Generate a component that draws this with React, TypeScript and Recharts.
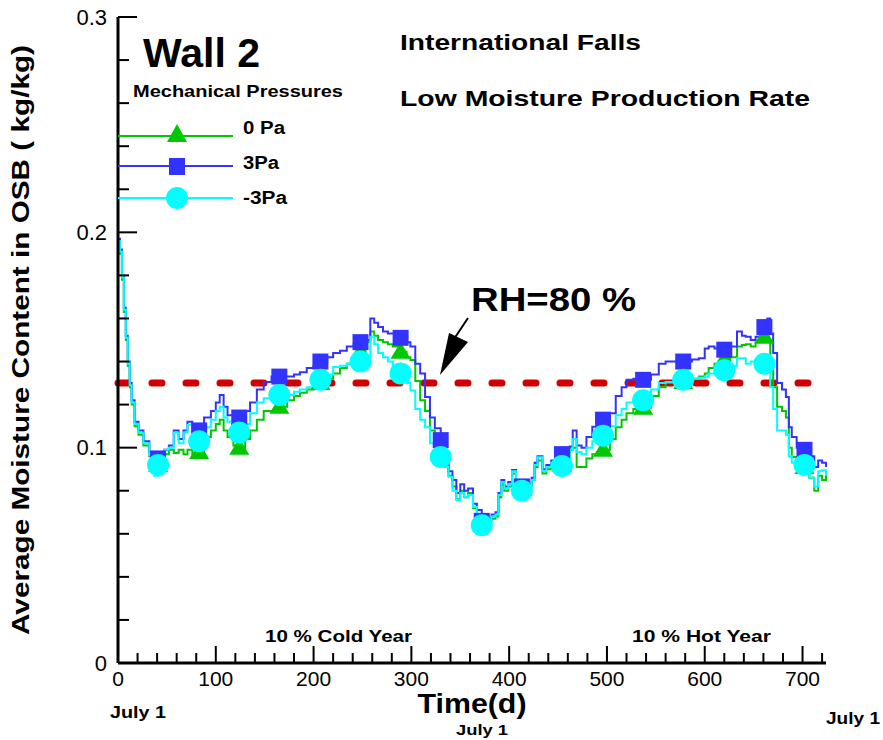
import React from "react";
import { LineChart, Line, XAxis, YAxis, ReferenceLine } from "recharts";

// time in days
const days = [
  0, 2, 4, 6, 8, 10, 12, 14, 17, 21,
  26, 32, 37, 41, 47, 52, 57, 62, 67, 71,
  76, 83, 88, 95, 100, 104, 108, 112, 118, 124,
  130, 135, 142, 149, 157, 165, 173, 180, 186, 193,
  200, 207, 214, 220, 227, 234, 241, 248, 253, 258,
  262, 266, 271, 276, 281, 289, 295, 299, 304, 309,
  314, 319, 324, 330, 334, 338, 342, 346, 350, 354,
  358, 363, 367, 372, 377, 382, 386, 389, 392, 395,
  399, 403, 407, 413, 418, 423, 426, 429, 434, 438,
  443, 448, 454, 459, 462, 465, 469, 474, 479, 485,
  490, 496, 503, 509, 515, 520, 527, 537, 545, 553,
  560, 570, 578, 587, 594, 600, 604, 610, 614, 620,
  626, 633, 638, 642, 647, 652, 657, 661, 664, 667,
  670, 674, 679, 683, 686, 689, 694, 702, 707, 712,
  716, 720, 724,
];

// 0 Pa
const pa0 = [
  0.196, 0.19, 0.178, 0.163, 0.15, 0.138, 0.128, 0.12, 0.11, 0.106,
  0.101, 0.096, 0.09, 0.092, 0.097, 0.099, 0.0975, 0.099, 0.097, 0.099,
  0.097, 0.098, 0.105, 0.108, 0.111, 0.113, 0.108, 0.105, 0.101, 0.1,
  0.104, 0.108, 0.113, 0.117, 0.117, 0.119, 0.122, 0.124, 0.1255, 0.127,
  0.128, 0.13, 0.132, 0.1345, 0.137, 0.139, 0.142, 0.1445, 0.149, 0.154,
  0.152, 0.15, 0.149, 0.148, 0.147, 0.1445, 0.142, 0.1407, 0.131, 0.122,
  0.117, 0.108, 0.104, 0.099, 0.094, 0.087, 0.082, 0.076, 0.08, 0.077,
  0.079, 0.072, 0.069, 0.065, 0.066, 0.067, 0.068, 0.077, 0.083, 0.08,
  0.082, 0.088, 0.083, 0.081, 0.082, 0.085, 0.091, 0.094, 0.088, 0.09,
  0.091, 0.095, 0.092, 0.093, 0.099, 0.1, 0.091, 0.091, 0.095, 0.097,
  0.098, 0.099, 0.104, 0.1095, 0.113, 0.116, 0.118, 0.1185, 0.124, 0.128,
  0.13, 0.13, 0.1305, 0.132, 0.133, 0.1345, 0.137, 0.139, 0.14, 0.141,
  0.142, 0.147, 0.1477, 0.148, 0.147, 0.149, 0.151, 0.1515, 0.15, 0.136,
  0.128, 0.119, 0.117, 0.114, 0.1, 0.0957, 0.094, 0.091, 0.086, 0.08,
  0.087, 0.085, 0.088,
];

// 3 Pa
const pa3 = [
  0.197, 0.192, 0.18, 0.165, 0.152, 0.14, 0.13, 0.122, 0.112, 0.108,
  0.103, 0.098, 0.095, 0.095, 0.099, 0.101, 0.108, 0.104, 0.108, 0.112,
  0.108, 0.108, 0.114, 0.117, 0.121, 0.1245, 0.119, 0.115, 0.114, 0.114,
  0.117, 0.121, 0.127, 0.1305, 0.133, 0.133, 0.133, 0.134, 0.135, 0.137,
  0.138, 0.14, 0.142, 0.144, 0.145, 0.147, 0.148, 0.149, 0.15, 0.16,
  0.158, 0.156, 0.154, 0.153, 0.153, 0.151, 0.149, 0.147, 0.139, 0.1345,
  0.1235, 0.114, 0.109, 0.1035, 0.096, 0.089, 0.085, 0.079, 0.083, 0.08,
  0.081, 0.074, 0.071, 0.066, 0.067, 0.069, 0.07, 0.079, 0.085, 0.082,
  0.084, 0.0896, 0.084, 0.082, 0.083, 0.086, 0.093, 0.096, 0.09, 0.092,
  0.094, 0.099, 0.097, 0.098, 0.1005, 0.108, 0.101, 0.1, 0.105, 0.1097,
  0.112, 0.113, 0.116, 0.124, 0.128, 0.1315, 0.132, 0.1315, 0.134, 0.139,
  0.14, 0.14, 0.14, 0.141, 0.1415, 0.146, 0.147, 0.146, 0.145, 0.1455,
  0.147, 0.154, 0.152, 0.1515, 0.15, 0.1515, 0.153, 0.156, 0.16, 0.153,
  0.144, 0.13, 0.127, 0.1235, 0.1095, 0.105, 0.1, 0.099, 0.096, 0.091,
  0.094, 0.093, 0.091,
];

// -3 Pa
const paNeg3 = [
  0.196, 0.191, 0.179, 0.164, 0.151, 0.139, 0.129, 0.121, 0.111, 0.107,
  0.102, 0.0966, 0.087, 0.092, 0.099, 0.1, 0.107, 0.102, 0.107, 0.1105,
  0.106, 0.103, 0.1095, 0.113, 0.117, 0.119, 0.114, 0.112, 0.111, 0.107,
  0.111, 0.116, 0.121, 0.123, 0.124, 0.1245, 0.1245, 0.126, 0.127, 0.128,
  0.13, 0.1315, 0.134, 0.1375, 0.138, 0.139, 0.14, 0.14, 0.142, 0.1515,
  0.148, 0.144, 0.142, 0.14, 0.138, 0.1345, 0.13, 0.1265, 0.118, 0.113,
  0.1095, 0.102, 0.099, 0.0957, 0.091, 0.0865, 0.08, 0.0757, 0.079, 0.077,
  0.078, 0.0725, 0.069, 0.064, 0.066, 0.068, 0.069, 0.078, 0.084, 0.081,
  0.083, 0.089, 0.083, 0.08, 0.082, 0.085, 0.092, 0.0955, 0.089, 0.091,
  0.093, 0.097, 0.0915, 0.095, 0.099, 0.104, 0.098, 0.097, 0.1, 0.103,
  0.104, 0.1055, 0.11, 0.115, 0.118, 0.121, 0.122, 0.122, 0.127, 0.13,
  0.1305, 0.131, 0.1315, 0.132, 0.1325, 0.133, 0.1345, 0.135, 0.135, 0.136,
  0.138, 0.1415, 0.1415, 0.139, 0.14, 0.139, 0.139, 0.139, 0.135, 0.128,
  0.118, 0.108, 0.108, 0.106, 0.096, 0.093, 0.093, 0.092, 0.086, 0.082,
  0.089, 0.0895, 0.087,
];

// days where the symbols sit
const markerDays = [41, 83, 124, 165, 207, 248, 289, 330, 372, 413, 454, 496, 537, 578, 620, 661, 702];

const xTicks = [
  0, 20, 40, 60, 80, 100, 120, 140, 160, 180, 200, 220, 240, 260, 280, 300, 320, 340, 360,
  380, 400, 420, 440, 460, 480, 500, 520, 540, 560, 580, 600, 620, 640, 660, 680, 700, 720,
];
const yTicks = [0, 0.02, 0.04, 0.06, 0.08, 0.1, 0.12, 0.14, 0.16, 0.18, 0.2, 0.22, 0.24, 0.26, 0.28, 0.3];

const rhLevel = 0.13;

const data = days.map((day, i) => ({ day, pa0: pa0[i], pa3: pa3[i], paNeg3: paNeg3[i] }));

const GREEN = "#00C800";
const BLUE = "#3333FF";
const CYAN = "#00FFFF";
const RED = "#D00000";
const FONT = "'Liberation Sans', Arial, sans-serif";

const W = 883;
const H = 740;
const PL = 118;
const PT = 17;
const PR = 826;
const PB = 663;

const isMarker = (d: number) => markerDays.includes(d);

const triangleDot = (p: any) => {
  const { cx, cy, payload, index } = p;
  if (!isMarker(payload.day)) return <g key={"t" + index} />;
  return (
    <path
      key={"t" + index}
      d={`M${cx},${cy - 10} L${cx + 10},${cy + 7} L${cx - 10},${cy + 7} Z`}
      fill={GREEN}
    />
  );
};

const squareDot = (p: any) => {
  const { cx, cy, payload, index } = p;
  if (!isMarker(payload.day)) return <g key={"s" + index} />;
  return <rect key={"s" + index} x={cx - 8} y={cy - 8} width={16} height={16} fill={BLUE} />;
};

const circleDot = (p: any) => {
  const { cx, cy, payload, index } = p;
  if (!isMarker(payload.day)) return <g key={"c" + index} />;
  return <circle key={"c" + index} cx={cx} cy={cy} r={11} fill={CYAN} />;
};

const YTick = (props: any) => {
  const { y, payload } = props;
  const v = payload.value;
  const major = Math.abs(v * 10 - Math.round(v * 10)) < 1e-6;
  return (
    <g>
      <path d={`M${PL},${y} H${PL + (major ? 19 : 11)}`} stroke="#000" strokeWidth={2} fill="none" />
      {major && (
        <text x={PL - 11} y={y} dy="0.35em" textAnchor="end" fontSize={22} fontFamily={FONT} fill="#000">
          {v === 0 ? "0" : v.toFixed(1)}
        </text>
      )}
    </g>
  );
};

const XTick = (props: any) => {
  const { x, payload } = props;
  const v = payload.value;
  const major = v % 100 === 0;
  return (
    <g>
      <path d={`M${x},${PB} V${PB - (major ? 17 : 10)}`} stroke="#000" strokeWidth={2} fill="none" />
      {major && (
        <text x={x} y={PB + 23} textAnchor="middle" fontSize={21} fontFamily={FONT} fill="#000">
          {v}
        </text>
      )}
    </g>
  );
};

export default function App() {
  return (
    <div style={{ position: "absolute", left: 0, top: 0, width: W, height: H, background: "#fff" }}>
      <LineChart
        width={W}
        height={H}
        data={data}
        margin={{ top: PT, right: W - PR, left: PL - 60, bottom: H - PB - 40 }}
      >
        <XAxis
          dataKey="day"
          type="number"
          domain={[0, 724]}
          ticks={xTicks}
          interval={0}
          height={40}
          axisLine={{ stroke: "#000", strokeWidth: 3 }}
          tickLine={false}
          tick={XTick}
        />
        <XAxis
          xAxisId="top"
          orientation="top"
          dataKey="day"
          type="number"
          domain={[0, 724]}
          height={0}
          tick={false}
          tickLine={false}
          axisLine={{ stroke: "#000", strokeWidth: 2 }}
        />
        <YAxis
          type="number"
          domain={[0, 0.3]}
          ticks={yTicks}
          interval={0}
          width={60}
          axisLine={{ stroke: "#000", strokeWidth: 3 }}
          tickLine={false}
          tick={YTick}
        />
        <YAxis
          yAxisId="r"
          orientation="right"
          type="number"
          domain={[0, 0.3]}
          width={0}
          tick={false}
          tickLine={false}
          axisLine={{ stroke: "#000", strokeWidth: 2 }}
        />
        <ReferenceLine
          y={rhLevel}
          stroke={RED}
          strokeWidth={7}
          strokeDasharray="10 24"
          strokeLinecap="round"
        />
        <Line
          type="stepAfter"
          dataKey="pa0"
          stroke={GREEN}
          strokeWidth={2}
          dot={triangleDot}
          activeDot={false}
          isAnimationActive={false}
        />
        <Line
          type="stepAfter"
          dataKey="pa3"
          stroke={BLUE}
          strokeWidth={2}
          dot={squareDot}
          activeDot={false}
          isAnimationActive={false}
        />
        <Line
          type="stepAfter"
          dataKey="paNeg3"
          stroke={CYAN}
          strokeWidth={2}
          dot={circleDot}
          activeDot={false}
          isAnimationActive={false}
        />
      </LineChart>

      {/* titles, legend and notes */}
      <svg
        width={W}
        height={H}
        style={{ position: "absolute", left: 0, top: 0, pointerEvents: "none" }}
        fontFamily={FONT}
        fontWeight="bold"
      >
        <text x={143} y={67} fontSize={40} textLength={117} lengthAdjust="spacingAndGlyphs">Wall 2</text>
        <text x={133} y={97} fontSize={17} textLength={210} lengthAdjust="spacingAndGlyphs">Mechanical Pressures</text>

        <line x1={118} x2={233} y1={136} y2={136} stroke={GREEN} strokeWidth={2} />
        <path d="M177,124 L187,142 L167,142 Z" fill={GREEN} />
        <text x={243} y={134} fontSize={18} textLength={42} lengthAdjust="spacingAndGlyphs">0 Pa</text>

        <line x1={118} x2={233} y1={166} y2={166} stroke={BLUE} strokeWidth={2} />
        <rect x={169} y={158} width={16} height={17} fill={BLUE} />
        <text x={243} y={169} fontSize={18} textLength={36} lengthAdjust="spacingAndGlyphs">3Pa</text>

        <line x1={118} x2={233} y1={198} y2={198} stroke={CYAN} strokeWidth={2} />
        <circle cx={177} cy={198} r={11} fill={CYAN} />
        <text x={243} y={204} fontSize={18} textLength={44} lengthAdjust="spacingAndGlyphs">-3Pa</text>

        <text x={400} y={50} fontSize={22} textLength={241} lengthAdjust="spacingAndGlyphs">International Falls</text>
        <text x={400} y={106} fontSize={22} textLength={410} lengthAdjust="spacingAndGlyphs">Low Moisture Production Rate</text>

        <text x={471} y={311} fontSize={34} textLength={165} lengthAdjust="spacingAndGlyphs">RH=80 %</text>
        <line x1={468} y1={318} x2={452} y2={342} stroke="#000" strokeWidth={2} />
        <path d="M440,375 L449,333 L468,342 Z" fill="#000" />

        <text x={265} y={642} fontSize={17} textLength={147} lengthAdjust="spacingAndGlyphs">10 % Cold Year</text>
        <text x={632} y={642} fontSize={17} textLength={139} lengthAdjust="spacingAndGlyphs">10 % Hot Year</text>

        <text x={472} y={713} fontSize={28} textAnchor="middle" textLength={109} lengthAdjust="spacingAndGlyphs">Time(d)</text>
        <text x={110} y={718} fontSize={17} textLength={56} lengthAdjust="spacingAndGlyphs">July 1</text>
        <text x={456} y={735} fontSize={15} textLength={52} lengthAdjust="spacingAndGlyphs">July 1</text>
        <text x={826} y={724} fontSize={17} textLength={54} lengthAdjust="spacingAndGlyphs">July 1</text>

        <text
          x={0}
          y={0}
          fontSize={23}
          textAnchor="middle"
          textLength={590}
          lengthAdjust="spacingAndGlyphs"
          transform="translate(29,340) rotate(-90)"
        >
          Average Moisture Content in OSB ( kg/kg)
        </text>
      </svg>
    </div>
  );
}
